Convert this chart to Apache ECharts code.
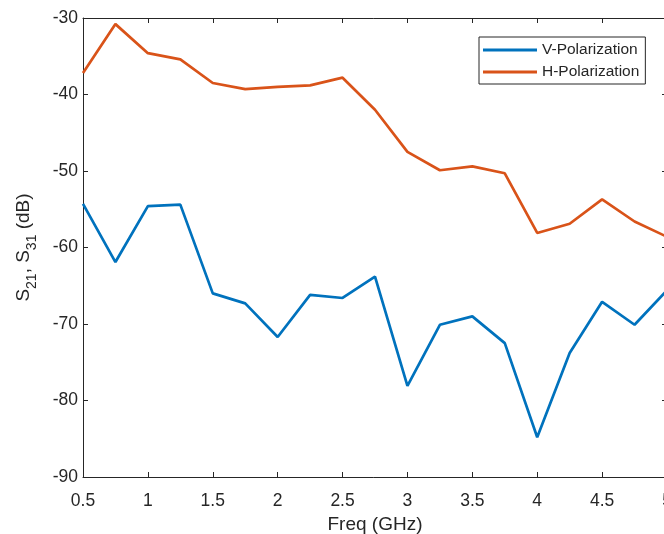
<!DOCTYPE html>
<html>
<head>
<meta charset="utf-8">
<script src="https://cdn.jsdelivr.net/npm/echarts@6/dist/echarts.min.js"></script>
<style>
  html, body { margin: 0; padding: 0; background: #ffffff; overflow: hidden; }
  #chart { width: 664px; height: 534px; }
</style>
</head>
<body>
<div id="chart"></div>
<script>
// Frequency sweep (GHz)
const freqs = [0.5, 0.75, 1, 1.25, 1.5, 1.75, 2, 2.25, 2.5, 2.75, 3, 3.25, 3.5, 3.75, 4, 4.25, 4.5, 4.75, 5];
// Coupling S21 / S31 in dB for each polarization
const vPol = [-54.3, -61.9, -54.6, -54.4, -66.0, -67.3, -71.7, -66.2, -66.6, -63.8, -78.1, -70.1, -69.0, -72.5, -84.8, -73.8, -67.1, -70.1, -65.6];
const hPol = [-37.2, -30.8, -34.6, -35.4, -38.5, -39.3, -39.0, -38.8, -37.8, -42.0, -47.5, -49.9, -49.4, -50.3, -58.1, -56.9, -53.7, -56.6, -58.6];
const seriesNames = ['V-Polarization', 'H-Polarization'];
const xTicks = { min: 0.5, max: 5, step: 0.5 };
const yTicks = { min: -90, max: -30, step: 10 };

const AXIS_COLOR = '#262626';
const FONT = 'Liberation Sans, Arial, Helvetica, sans-serif';

const chart = echarts.init(document.getElementById('chart'), null, { renderer: 'canvas' });

const pairs = (ys) => freqs.map((f, i) => [f, ys[i]]);

function xAxisDef(position, showLabels) {
  return {
    type: 'value',
    position: position,
    min: xTicks.min, max: xTicks.max, interval: xTicks.step,
    axisLine: { show: true, onZero: false, lineStyle: { color: AXIS_COLOR, width: 1 } },
    axisTick: { show: true, inside: true, length: 5, lineStyle: { color: AXIS_COLOR } },
    axisLabel: { show: showLabels, color: AXIS_COLOR, fontSize: 17.5, fontFamily: FONT, margin: 15 },
    splitLine: { show: false },
    name: showLabels ? 'Freq (GHz)' : '',
    nameLocation: 'middle',
    nameGap: 38,
    nameTextStyle: { color: AXIS_COLOR, fontSize: 19, fontFamily: FONT }
  };
}

function yAxisDef(position, showLabels) {
  return {
    type: 'value',
    position: position,
    min: yTicks.min, max: yTicks.max, interval: yTicks.step,
    axisLine: { show: true, onZero: false, lineStyle: { color: AXIS_COLOR, width: 1 } },
    axisTick: { show: true, inside: true, length: 5, lineStyle: { color: AXIS_COLOR } },
    axisLabel: { show: showLabels, color: AXIS_COLOR, fontSize: 17.5, fontFamily: FONT, margin: 5 },
    splitLine: { show: false },
    name: showLabels ? '{n|S}{s|21}{n|, S}{s|31}{n| (dB)}' : '',
    nameLocation: 'middle',
    nameRotate: 90,
    nameGap: 50,
    nameTextStyle: {
      color: AXIS_COLOR, fontFamily: FONT,
      rich: {
        n: { fontSize: 19, fontFamily: FONT, color: AXIS_COLOR, verticalAlign: 'bottom', lineHeight: 28 },
        s: { fontSize: 14, fontFamily: FONT, color: AXIS_COLOR, verticalAlign: 'bottom', lineHeight: 28, padding: [0, 0, -6, 0] }
      }
    }
  };
}

chart.setOption({
  animation: false,
  backgroundColor: '#ffffff',
  grid: { left: 83, top: 18, width: 584, height: 459, containLabel: false, outerBoundsMode: 'none' },
  legend: {
    orient: 'vertical',
    left: 479, top: 37,
    padding: [2, 6, 1, 4],
    itemGap: 0,
    itemWidth: 54, itemHeight: 3,
    icon: 'rect',
    borderColor: '#262626', borderWidth: 1,
    backgroundColor: '#ffffff',
    textStyle: { color: AXIS_COLOR, fontSize: 15.5, fontFamily: FONT, lineHeight: 22 },
    data: seriesNames
  },
  xAxis: [xAxisDef('bottom', true), xAxisDef('top', false)],
  yAxis: [yAxisDef('left', true), yAxisDef('right', false)],
  series: [
    { name: seriesNames[0], type: 'line', data: pairs(vPol), symbol: 'none', color: '#0072BD',
      lineStyle: { width: 2.7, color: '#0072BD' } },
    { name: seriesNames[1], type: 'line', data: pairs(hPol), symbol: 'none', color: '#D95319',
      lineStyle: { width: 2.7, color: '#D95319' } }
  ]
});
</script>
</body>
</html>
